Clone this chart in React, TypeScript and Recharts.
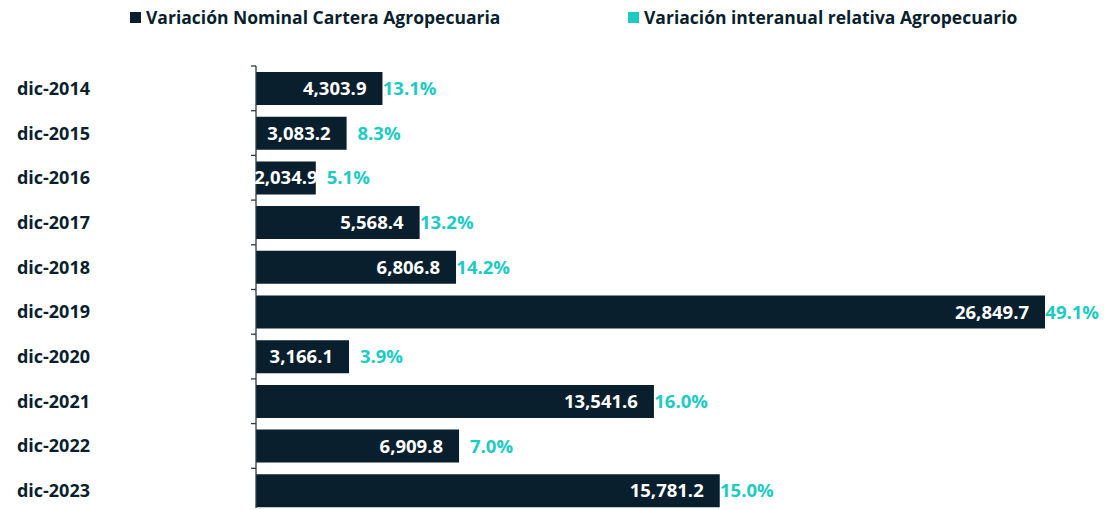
import { BarChart, Bar, XAxis, YAxis, Legend, LabelList } from 'recharts';

const categories = ['dic-2014', 'dic-2015', 'dic-2016', 'dic-2017', 'dic-2018', 'dic-2019', 'dic-2020', 'dic-2021', 'dic-2022', 'dic-2023'];
const nominal = [4303.9, 3083.2, 2034.9, 5568.4, 6806.8, 26849.7, 3166.1, 13541.6, 6909.8, 15781.2];
const interanual = [13.1, 8.3, 5.1, 13.2, 14.2, 49.1, 3.9, 16.0, 7.0, 15.0];
const seriesNames = ['Variación Nominal Cartera Agropecuaria', 'Variación interanual relativa Agropecuario'];

const NAVY = '#0a1f2e';
const TEAL = '#1dcbc3';
const FONT = '"Open Sans", sans-serif';

const W = 1109;
const H = 516;
const LEGEND_H = 34;
const MARGIN = { top: 32, right: 64, bottom: 3, left: 0 };
const AXIS_W = 256;
const PLOT_H = H - MARGIN.top - LEGEND_H - MARGIN.bottom;
const BAND = PLOT_H / categories.length;

const data = categories.map((c, i) => ({ cat: c, nominal: nominal[i], interanual: interanual[i] }));

const fmt = (v: number) => v.toLocaleString('en-US', { minimumFractionDigits: 1, maximumFractionDigits: 1 });

function CatTick(props: any) {
    const { y, payload } = props;
    const axisX = MARGIN.left + AXIS_W;
    return (
        <g>
            <line x1={axisX - 5} x2={axisX} y1={y - BAND / 2} y2={y - BAND / 2} stroke="#2f3b45" strokeWidth={1.3} />
            <text x={90} y={y} dy={6.5} textAnchor="end" fontFamily={FONT} fontWeight={700} fontSize={18} fill={NAVY}>
                {payload.value}
            </text>
        </g>
    );
}

function ValueLabel(props: any) {
    const { x, y, width, height, value } = props;
    const small = width < 80;
    return (
        <text
            x={small ? x + width / 2 : x + width - 16}
            y={y + height / 2}
            dy={6.5}
            textAnchor={small ? 'middle' : 'end'}
            fontFamily={FONT}
            fontWeight={700}
            fontSize={18.5}
            fill="#ffffff"
        >
            {fmt(value)}
        </text>
    );
}

function PctLabel(props: any) {
    const { x, y, width, height, value } = props;
    return (
        <text x={x + width + 54} y={y + height / 2} dy={6.5} textAnchor="end" fontFamily={FONT} fontWeight={700} fontSize={18.5} fill={TEAL}>
            {value.toFixed(1)}%
        </text>
    );
}

function TopLegend() {
    const colors = [NAVY, TEAL];
    const widths = [498, 440];
    return (
        <div style={{ display: 'flex', height: LEGEND_H, paddingLeft: 130, alignItems: 'flex-start', fontFamily: FONT, fontWeight: 700, fontSize: 17.5, color: NAVY }}>
            {seriesNames.map((n, i) => (
                <div key={n} style={{ width: widths[i], display: 'flex', alignItems: 'center', marginTop: 5 }}>
                    <span style={{ width: 11, height: 11, background: colors[i], display: 'inline-block', marginRight: 5 }} />
                    <span>{n}</span>
                </div>
            ))}
        </div>
    );
}

export default function App() {
    return (
        <div style={{ margin: -8, width: W, height: H, background: '#ffffff' }}>
            <BarChart width={W} height={H} data={data} layout="vertical" margin={MARGIN}>
                <Legend verticalAlign="top" content={() => <TopLegend />} wrapperStyle={{ left: 0, top: 0, width: W }} />
                <XAxis type="number" hide domain={[0, 'dataMax']} />
                <YAxis
                    type="category"
                    dataKey="cat"
                    width={AXIS_W}
                    axisLine={{ stroke: '#2f3b45', strokeWidth: 1.3 }}
                    tickLine={false}
                    tick={<CatTick />}
                    interval={0}
                />
                <Bar dataKey="nominal" fill={NAVY} barSize={33} isAnimationActive={false}>
                    <LabelList dataKey="nominal" content={<ValueLabel />} />
                    <LabelList dataKey="interanual" content={<PctLabel />} />
                </Bar>
            </BarChart>
        </div>
    );
}
